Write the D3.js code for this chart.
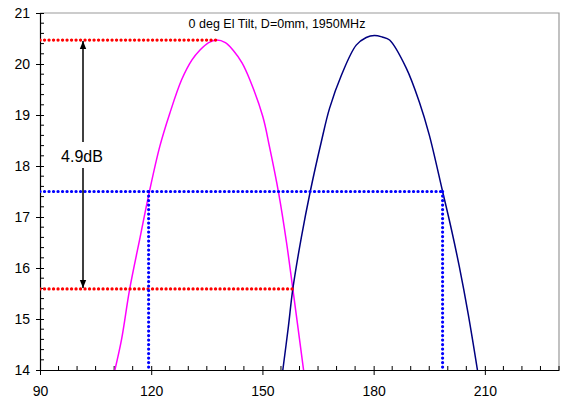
<!DOCTYPE html>
<html>
<head>
<meta charset="utf-8">
<script src="https://cdn.jsdelivr.net/npm/d3@7"></script>
<style>
  body { margin: 0; background: #fff; }
  svg { font-family: "Liberation Sans", Arial, sans-serif; }
</style>
</head>
<body>
<div id="chart"></div>
<script>
// pattern data (angle deg, level dB)
var magentaX = [110.2, 112, 114.2, 117, 119.4, 122.3, 125, 128.2, 131, 133.1, 135.5, 137.6, 140, 142.1, 144.5, 146.6, 150.1, 151.9, 154.4, 156.5, 158.2, 161.1];
var magentaY = [14, 14.6, 15.59, 16.6, 17.46, 18.38, 19.03, 19.69, 20.08, 20.27, 20.42, 20.47, 20.42, 20.27, 20.02, 19.69, 18.97, 18.38, 17.46, 16.5, 15.59, 14];
var blueX = [155.5, 157, 158.2, 160.5, 162.9, 165.9, 168.1, 171.3, 175.3, 178, 180.2, 182.3, 184.3, 188.8, 192.3, 195, 198.6, 201, 203.1, 205.5, 208];
var blueY = [14, 14.85, 15.59, 16.6, 17.5, 18.48, 19.13, 19.78, 20.37, 20.52, 20.56, 20.53, 20.47, 19.92, 19.26, 18.61, 17.5, 16.75, 16.03, 15.1, 14];

// marker lines
var peakLevel = 20.47, lowLevel = 15.59, halfLevel = 17.5;
var peakAngle = 137.6, lowAngle = 158.2;
var bwLeft = 119.3, bwRight = 198.6;
var arrowAngle = 101.6;
var deltaLabel = "4.9dB";
var title = "0 deg El Tilt, D=0mm, 1950MHz";

var xTicks = [90, 120, 150, 180, 210];
var yTicks = [14, 15, 16, 17, 18, 19, 20, 21];

var W = 568, H = 398;
var margin = {top: 13, right: 9, bottom: 28, left: 40};

var svg = d3.select("#chart").append("svg")
  .attr("width", W)
  .attr("height", H);

var x = d3.scaleLinear().domain([90, 230]).range([margin.left, W - margin.right]);
var y = d3.scaleLinear().domain([14, 21]).range([H - margin.bottom, margin.top]);

var defs = svg.append("defs");
defs.append("clipPath").attr("id", "plot")
  .append("rect")
  .attr("x", x(90)).attr("y", y(21))
  .attr("width", x(230) - x(90)).attr("height", y(14) - y(21));
defs.append("marker")
  .attr("id", "arr")
  .attr("viewBox", "0 0 10 10")
  .attr("refX", 10).attr("refY", 5)
  .attr("markerWidth", 8).attr("markerHeight", 8)
  .attr("markerUnits", "userSpaceOnUse")
  .attr("orient", "auto-start-reverse")
  .append("path").attr("d", "M0,1 L10,5 L0,9 Z").attr("fill", "#000");

// frame top/right (grey)
svg.append("path")
  .attr("d", "M" + x(90) + "," + y(21) + "H" + x(230) + "V" + y(14))
  .attr("fill", "none").attr("stroke", "#999").attr("stroke-width", 1.2);

// axes
var xAxis = svg.append("g")
  .attr("transform", "translate(0," + y(14) + ")")
  .call(d3.axisBottom(x).tickValues(xTicks).tickSize(4).tickPadding(12).tickSizeOuter(0));
xAxis.selectAll(".tick line").attr("y1", -4).attr("y2", 5);
var xMinor = d3.range(90, 231, 5).filter(function(d) { return d % 30 != 0; });
xAxis.selectAll(".minor").data(xMinor).enter().append("line")
  .attr("x1", function(d) { return x(d); }).attr("x2", function(d) { return x(d); })
  .attr("y1", 0).attr("y2", -4).attr("stroke", "#000");

var yAxis = svg.append("g")
  .attr("transform", "translate(" + x(90) + ",0)")
  .call(d3.axisLeft(y).tickValues(yTicks).tickFormat(d3.format("d")).tickSize(4).tickPadding(6).tickSizeOuter(0));
yAxis.selectAll(".tick line").attr("x1", -4).attr("x2", 4);
var yMinor = d3.range(0, 36).map(function(i) { return 14 + i * 0.2; }).filter(function(d) { return Math.abs(d - Math.round(d)) > 0.01; });
yAxis.selectAll(".minor").data(yMinor).enter().append("line")
  .attr("y1", function(d) { return y(d); }).attr("y2", function(d) { return y(d); })
  .attr("x1", 0).attr("x2", 4).attr("stroke", "#000");

svg.selectAll(".domain").attr("stroke", "#000").attr("stroke-width", 1.2);
svg.selectAll(".tick text").attr("font-size", 14).attr("fill", "#000")
  .style("font-family", "'Liberation Sans', Arial, sans-serif");

var plot = svg.append("g").attr("clip-path", "url(#plot)");

var line = d3.line()
  .x(function(d) { return x(d[0]); })
  .y(function(d) { return y(d[1]); })
  .curve(d3.curveCatmullRom);

plot.append("path")
  .datum(d3.zip(magentaX, magentaY))
  .attr("d", line)
  .attr("fill", "none").attr("stroke", "#ff00ff").attr("stroke-width", 1.5);

plot.append("path")
  .datum(d3.zip(blueX, blueY))
  .attr("d", line)
  .attr("fill", "none").attr("stroke", "#000080").attr("stroke-width", 1.5);

// dotted markers
function dotted(x1, y1, x2, y2, color) {
  plot.append("line")
    .attr("x1", x(x1)).attr("y1", y(y1))
    .attr("x2", x(x2)).attr("y2", y(y2))
    .attr("stroke", color).attr("stroke-width", 3.2)
    .attr("stroke-linecap", "round")
    .attr("stroke-dasharray", "0.1 4.4");
}
dotted(90, peakLevel, peakAngle, peakLevel, "#ff0000");
dotted(90, lowLevel, lowAngle, lowLevel, "#ff0000");
dotted(90, halfLevel, bwRight, halfLevel, "#0000ff");
dotted(bwLeft, halfLevel, bwLeft, 14, "#0000ff");
dotted(bwRight, halfLevel, bwRight, 14, "#0000ff");

// double arrow
svg.append("line")
  .attr("x1", x(arrowAngle)).attr("y1", y(peakLevel) + 1)
  .attr("x2", x(arrowAngle)).attr("y2", y(lowLevel) - 1)
  .attr("stroke", "#000").attr("stroke-width", 1.5)
  .attr("marker-start", "url(#arr)")
  .attr("marker-end", "url(#arr)");

var lblY = 156;
svg.append("rect")
  .attr("x", x(arrowAngle) - 22).attr("y", lblY - 14)
  .attr("width", 44).attr("height", 26)
  .attr("fill", "#fff");
svg.append("text")
  .attr("x", x(arrowAngle) - 1).attr("y", lblY + 6)
  .attr("text-anchor", "middle")
  .attr("font-size", 16)
  .text(deltaLabel);

svg.append("text")
  .attr("x", 277).attr("y", 28)
  .attr("text-anchor", "middle")
  .attr("font-size", 12.5)
  .text(title);
</script>
</body>
</html>
